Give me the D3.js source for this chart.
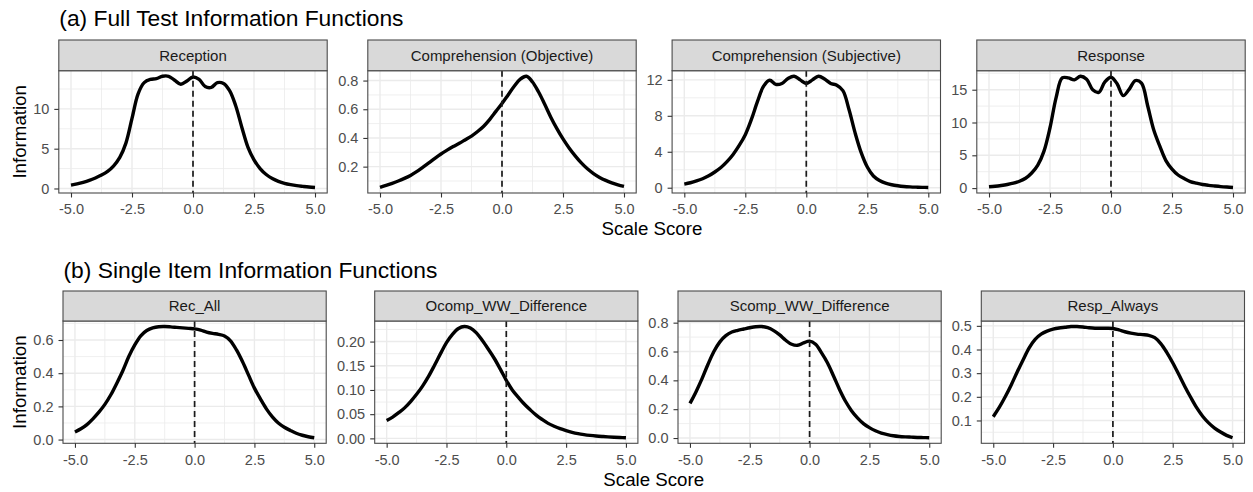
<!DOCTYPE html>
<html><head><meta charset="utf-8">
<script src="https://cdn.jsdelivr.net/npm/d3@7"></script>
<style>
body{margin:0;background:#fff}
text{font-family:"Liberation Sans",Arial,Helvetica,sans-serif}
</style>
</head><body>
<svg id="chart" width="1253" height="492"></svg>
<script>
// ---------- data ----------
const theta = [-5,-4.75,-4.5,-4.25,-4,-3.75,-3.5,-3.25,-3,-2.75,-2.5,-2.25,-2,-1.75,-1.5,-1.25,-1,-0.75,-0.5,-0.25,0,
               0.25,0.5,0.75,1,1.25,1.5,1.75,2,2.25,2.5,2.75,3,3.25,3.5,3.75,4,4.25,4.5,4.75,5];

const rowTitles = ["(a) Full Test Information Functions", "(b) Single Item Information Functions"];
const panelNames = ["Reception","Comprehension (Objective)","Comprehension (Subjective)","Response",
                    "Rec_All","Ocomp_WW_Difference","Scomp_WW_Difference","Resp_Always"];

const reception = [0.42,0.58,0.78,1.02,1.32,1.68,2.15,2.85,3.9,5.7,8.8,11.9,13.3,13.7,13.8,14.1,14.1,13.6,13.1,13.5,14.0,
                   13.7,12.8,12.7,13.3,13.2,12.3,10.4,7.7,5.2,3.6,2.5,1.75,1.25,0.9,0.65,0.48,0.35,0.26,0.18,0.13];
const compObjective = [0.055,0.069,0.084,0.1,0.118,0.139,0.165,0.195,0.226,0.258,0.288,0.315,0.34,0.363,0.388,0.413,0.445,0.482,0.53,0.585,0.64,
                       0.70,0.76,0.81,0.83,0.79,0.72,0.635,0.545,0.465,0.393,0.33,0.275,0.226,0.185,0.152,0.125,0.104,0.087,0.073,0.062];
const compSubjective = [0.4,0.55,0.75,1.0,1.33,1.75,2.25,2.9,3.7,4.7,5.9,7.6,9.6,11.3,11.95,11.5,11.6,12.15,12.4,12.0,11.6,
                        12.0,12.4,12.1,11.6,11.4,10.8,8.7,6.1,3.9,2.3,1.3,0.8,0.5,0.33,0.22,0.14,0.09,0.06,0.04,0.03];
const response = [0.2,0.28,0.4,0.55,0.75,1.05,1.5,2.3,3.5,5.6,9.2,13.8,16.8,16.8,16.5,17.05,16.6,15.0,14.6,16.2,16.9,
                  15.9,14.1,15.1,16.4,16.0,12.6,8.9,6.4,4.2,2.9,2.0,1.45,1.0,0.75,0.55,0.42,0.32,0.23,0.16,0.1];
const recAll = [0.046,0.065,0.09,0.125,0.165,0.212,0.27,0.34,0.415,0.50,0.57,0.625,0.657,0.673,0.68,0.681,0.679,0.676,0.673,0.67,0.667,
                0.66,0.648,0.64,0.634,0.624,0.595,0.54,0.47,0.39,0.31,0.245,0.185,0.137,0.1,0.074,0.055,0.038,0.026,0.017,0.011];
const ocompWW = [0.037,0.044,0.053,0.063,0.076,0.091,0.108,0.128,0.151,0.175,0.198,0.215,0.227,0.231,0.228,0.218,0.202,0.184,0.165,0.143,0.12,
                 0.1,0.085,0.071,0.059,0.048,0.039,0.031,0.025,0.02,0.016,0.0125,0.0098,0.0078,0.0062,0.0049,0.0039,0.0031,0.0024,0.0018,0.0013];
const scompWW = [0.24,0.32,0.41,0.51,0.60,0.667,0.71,0.735,0.747,0.756,0.765,0.772,0.773,0.765,0.745,0.715,0.678,0.65,0.643,0.66,0.672,
                 0.65,0.59,0.52,0.43,0.337,0.255,0.19,0.14,0.1,0.072,0.05,0.034,0.024,0.016,0.011,0.008,0.006,0.004,0.003,0.002];
const respAlways = [0.116,0.155,0.2,0.25,0.305,0.357,0.407,0.443,0.465,0.478,0.486,0.491,0.494,0.497,0.497,0.495,0.492,0.49,0.49,0.49,0.489,
                    0.483,0.475,0.469,0.465,0.463,0.46,0.45,0.425,0.388,0.344,0.295,0.245,0.198,0.154,0.118,0.09,0.068,0.051,0.037,0.027];

const series = [reception, compObjective, compSubjective, response, recAll, ocompWW, scompWW, respAlways];

const xTickLabels = ["-5.0","-2.5","0.0","2.5","5.0"];
const yTickLabels = [
  ["0","5","10"],
  ["0.2","0.4","0.6","0.8"],
  ["0","4","8","12"],
  ["0","5","10","15"],
  ["0.0","0.2","0.4","0.6"],
  ["0.00","0.05","0.10","0.15","0.20"],
  ["0.0","0.2","0.4","0.6","0.8"],
  ["0.1","0.2","0.3","0.4","0.5"]
];
const refLine = 0;
const xLabel = "Scale Score";
const yLabel = "Information";

// ---------- layout ----------
const rows = [
  {titleY:25.7, stripTop:40, panelTop:70.7, panelBottom:193, lefts:[58.8,367.8,672.1,976.8], width:268.4, xLabY:235, panels:[0,1,2,3]},
  {titleY:277.7, stripTop:291, panelTop:321, panelBottom:443.3, lefts:[63,374.7,678,981.3], width:263.2, xLabY:486, panels:[4,5,6,7]}
];
const gridCol = "#ebebeb", borderCol = "#4a4a4a", axisTextCol = "#4d4d4d";

const svg = d3.select("#chart");
svg.append("rect").attr("width",1253).attr("height",492).attr("fill","#fff");

function minorOf(vals, domain){
  const step = vals[1]-vals[0];
  const out = [];
  for (let i=-1;i<vals.length;i++){
    const m = (i<0? vals[0]-step/2 : vals[i]+step/2);
    if (m>domain[0] && m<domain[1]) out.push(m);
  }
  return out;
}

rows.forEach((row, ri) => {
  svg.append("text").attr("x", row.lefts[0] + 0.5).attr("y", row.titleY)
     .attr("font-size", 22.8).attr("fill","#000").text(rowTitles[ri]);
  const midY = (row.panelTop + row.panelBottom)/2;
  svg.append("text").attr("transform",`translate(19,${midY}) rotate(-90)`)
     .attr("text-anchor","middle").attr("dominant-baseline","central")
     .attr("font-size",18.7).attr("fill","#000").text(yLabel);
  const xl = row.lefts[0], xr = row.lefts[3] + row.width;
  svg.append("text").attr("x",(xl+xr)/2).attr("y",row.xLabY).attr("text-anchor","middle")
     .attr("font-size",18.7).attr("fill","#000").text(xLabel);

  row.panels.forEach((pi, ci) => {
    const L = row.lefts[ci], W = row.width, T = row.panelTop, B = row.panelBottom;
    const vals = series[pi];
    const x = d3.scaleLinear().domain([-5.5,5.5]).range([L, L+W]);
    const [mn, mx] = d3.extent(vals);
    const pad = (mx-mn)*0.05;
    const y = d3.scaleLinear().domain([mn-pad, mx+pad]).range([B, T]);
    const g = svg.append("g");

    const xMaj = xTickLabels.map(Number);
    const xMin = minorOf(xMaj, x.domain());
    const yMaj = yTickLabels[pi].map(Number);
    const yMin = minorOf(yMaj, y.domain());

    g.append("rect").attr("x",L).attr("y",T).attr("width",W).attr("height",B-T).attr("fill","#fff");
    g.selectAll(".xmin").data(xMin).enter().append("line")
      .attr("x1",d=>x(d)).attr("x2",d=>x(d)).attr("y1",T).attr("y2",B)
      .attr("stroke",gridCol).attr("stroke-width",0.8);
    g.selectAll(".ymin").data(yMin).enter().append("line")
      .attr("x1",L).attr("x2",L+W).attr("y1",d=>y(d)).attr("y2",d=>y(d))
      .attr("stroke",gridCol).attr("stroke-width",0.8);
    g.selectAll(".xmaj").data(xMaj).enter().append("line")
      .attr("x1",d=>x(d)).attr("x2",d=>x(d)).attr("y1",T).attr("y2",B)
      .attr("stroke",gridCol).attr("stroke-width",1.4);
    g.selectAll(".ymaj").data(yMaj).enter().append("line")
      .attr("x1",L).attr("x2",L+W).attr("y1",d=>y(d)).attr("y2",d=>y(d))
      .attr("stroke",gridCol).attr("stroke-width",1.4);

    const line = d3.line().x((d,i)=>x(theta[i])).y(d=>y(d)).curve(d3.curveCatmullRom.alpha(0.5));
    g.append("path").datum(vals).attr("d",line).attr("fill","none")
      .attr("stroke","#000").attr("stroke-width",3.4).attr("stroke-linejoin","round").attr("stroke-linecap","butt");

    g.append("line").attr("x1",x(refLine)).attr("x2",x(refLine)).attr("y1",T).attr("y2",B)
      .attr("stroke","#1a1a1a").attr("stroke-width",1.7).attr("stroke-dasharray","6,4");

    g.append("rect").attr("x",L).attr("y",T).attr("width",W).attr("height",B-T)
      .attr("fill","none").attr("stroke",borderCol).attr("stroke-width",1.1);
    g.append("rect").attr("x",L).attr("y",row.stripTop).attr("width",W).attr("height",T-row.stripTop)
      .attr("fill","#d9d9d9").attr("stroke",borderCol).attr("stroke-width",1.1);
    g.append("text").attr("x",L+W/2).attr("y",(row.stripTop+T)/2).attr("dy","0.35em")
      .attr("text-anchor","middle").attr("font-size",15).attr("fill","#1a1a1a").text(panelNames[pi]);

    const ax = g.append("g").attr("transform",`translate(0,${B})`)
      .call(d3.axisBottom(x).tickValues(xMaj).tickFormat((d,i)=>xTickLabels[i]).tickSize(4.5).tickPadding(6.5));
    const ay = g.append("g").attr("transform",`translate(${L},0)`)
      .call(d3.axisLeft(y).tickValues(yMaj).tickFormat((d,i)=>yTickLabels[pi][i]).tickSize(4.5).tickPadding(5));
    [ax, ay].forEach(a => {
      a.select(".domain").remove();
      a.selectAll(".tick line").attr("stroke","#333").attr("stroke-width",1.1);
      a.selectAll(".tick text").attr("fill",axisTextCol).attr("font-size",14.5)
        .attr("font-family",'"Liberation Sans",Arial,sans-serif');
    });
  });
});
</script>
</body></html>
